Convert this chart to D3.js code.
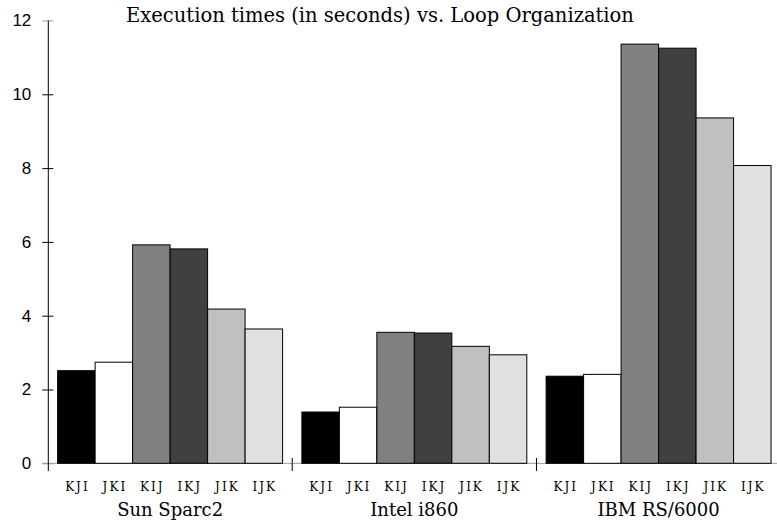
<!DOCTYPE html>
<html>
<head>
<meta charset="utf-8">
<script src="https://cdn.jsdelivr.net/npm/d3@7"></script>
<style>
  body { margin: 0; background: #fff; }
  #chart { width: 777px; height: 524px; }
</style>
</head>
<body>
<div id="chart"></div>
<script>
// data

const machines = ["Sun Sparc2", "Intel i860", "IBM RS/6000"];
const orders = ["KJI", "JKI", "KIJ", "IKJ", "JIK", "IJK"];
const sunSparc2 = [2.51, 2.74, 5.92, 5.81, 4.18, 3.64];
const intelI860 = [1.39, 1.52, 3.55, 3.53, 3.17, 2.94];
const ibmRS6000 = [2.36, 2.41, 11.36, 11.25, 9.36, 8.07];
const yTicks = [0, 2, 4, 6, 8, 10, 12];
const fills = ["#000000", "#ffffff", "#808080", "#404040", "#c0c0c0", "#e0e0e0"];

const times = [sunSparc2, intelI860, ibmRS6000];

const container = d3.select("#chart");
const width = 777;
const height = 524;

const svg = container
  .append("svg")
  .attr("width", width)
  .attr("height", height);

// scales

const x0 = d3.scaleBand()
  .domain(machines)
  .range([48, 780.7])
  .paddingInner(0.079)
  .paddingOuter(0.0395);

const x1 = d3.scaleBand()
  .domain(orders)
  .range([0, x0.bandwidth()]);

const y = d3.scaleLinear().domain([0, 12]).range([463.3, 20.5]);

// baseline

svg.append("line")
  .attr("x1", 42).attr("x2", 780)
  .attr("y1", y(0)).attr("y2", y(0))
  .attr("stroke", "#999")
  .attr("stroke-width", 1);

// bars

const groups = svg.append("g")
  .selectAll("g")
  .data(machines)
  .join("g")
  .attr("transform", (d) => "translate(" + x0(d) + ",0)");

groups.selectAll("rect")
  .data((d, i) => times[i].map((v, j) => ({ order: orders[j], value: v, fill: fills[j] })))
  .join("rect")
  .attr("x", (d) => x1(d.order))
  .attr("y", (d) => y(d.value))
  .attr("width", x1.bandwidth())
  .attr("height", (d) => y(0) - y(d.value))
  .attr("fill", (d) => d.fill)
  .attr("stroke", "#000")
  .attr("stroke-width", 1);

// order labels

groups.selectAll("text.order")
  .data(orders)
  .join("text")
  .attr("class", "order")
  .attr("x", (d) => x1(d) + x1.bandwidth() / 2)
  .attr("y", 491)
  .attr("text-anchor", "middle")
  .attr("font-family", "DejaVu Serif")
  .attr("font-size", 12)
  .attr("letter-spacing", 2)
  .attr("dx", 1)
  .text((d) => d);

// machine labels

groups.append("text")
  .attr("x", x0.bandwidth() / 2)
  .attr("y", 515.5)
  .attr("text-anchor", "middle")
  .attr("font-family", "DejaVu Serif")
  .attr("font-size", 18)
  .text((d) => d);

// group separators

svg.append("g")
  .selectAll("line")
  .data(machines.slice(1))
  .join("line")
  .attr("x1", (d) => x0(d) - x0.step() * x0.paddingInner() / 2)
  .attr("x2", (d) => x0(d) - x0.step() * x0.paddingInner() / 2)
  .attr("y1", 458)
  .attr("y2", 471)
  .attr("stroke", "#000");

// y axis

const yAxis = svg.append("g")
  .attr("transform", "translate(48.3,0)")
  .call(d3.axisLeft(y).tickValues(yTicks).tickSize(6).tickSizeOuter(0));

yAxis.select(".domain").remove();
yAxis.append("line")
  .attr("x1", 0).attr("x2", 0)
  .attr("y1", y(12)).attr("y2", 471)
  .attr("stroke", "#000");

yAxis.selectAll(".tick line").attr("x1", 5).attr("x2", -6);
yAxis.selectAll(".tick")
  .filter((d) => d === 12 || d === 0)
  .select("line")
  .attr("stroke", "#999");

yAxis.selectAll(".tick text")
  .attr("x", -17)
  .attr("font-family", "Liberation Sans")
  .attr("font-size", 17)
  .attr("fill", "#000");

// title

svg.append("text")
  .attr("x", 380)
  .attr("y", 22)
  .attr("text-anchor", "middle")
  .attr("font-family", "DejaVu Serif")
  .attr("font-size", 19.5)
  .text("Execution times (in seconds) vs. Loop Organization");
</script>
</body>
</html>
